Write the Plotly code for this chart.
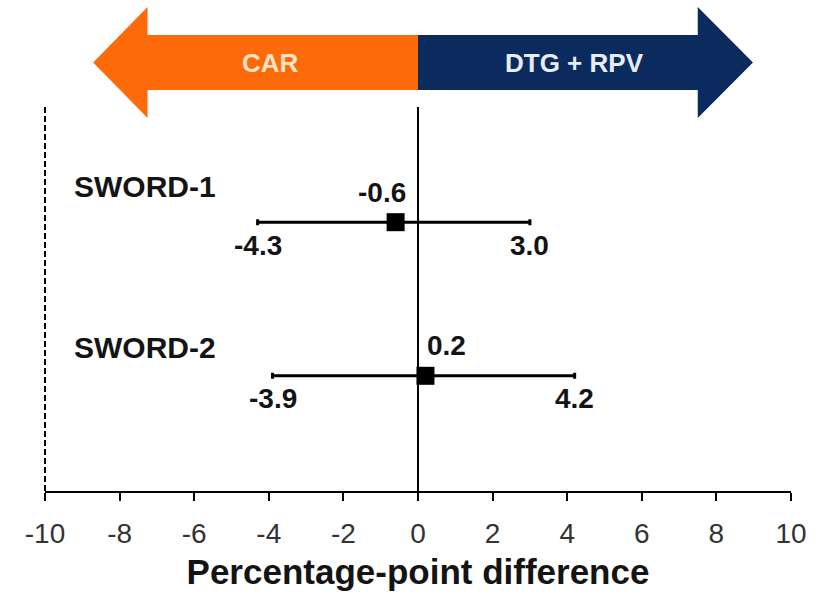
import plotly.graph_objects as go

# Study results: point estimate and 95% CI (percentage points)
studies = ["SWORD-1", "SWORD-2"]
estimates = [-0.6, 0.2]
ci_low = [-4.3, -3.9]
ci_high = [3.0, 4.2]
row_pos = [7, 3]

x_ticks = [-10, -8, -6, -4, -2, 0, 2, 4, 6, 8, 10]
arrow_labels = ["CAR", "DTG + RPV"]

X_MIN, X_MAX = -10, 10
Y_MIN, Y_MAX = 0, 10
FONT = "Liberation Sans, Arial, sans-serif"
ORANGE = "#FC6A0A"
NAVY = "#0B2B5E"
INK = "#141414"

fig = go.Figure()

fig.add_trace(go.Scatter(
    x=estimates,
    y=row_pos,
    mode="markers",
    marker=dict(symbol="square", size=18, color="black"),
    error_x=dict(
        type="data",
        symmetric=False,
        array=[h - e for h, e in zip(ci_high, estimates)],
        arrayminus=[e - l for e, l in zip(estimates, ci_low)],
        color="black",
        thickness=3,
        width=3,
    ),
    showlegend=False,
    hoverinfo="skip",
))

annotations = []
name_shift = {"SWORD-1": 36, "SWORD-2": 28}
for name, est, lo, hi, yp in zip(studies, estimates, ci_low, ci_high, row_pos):
    val_font = dict(family=FONT, size=28, color=INK)
    annotations.append(dict(x=X_MIN, y=yp, text="<b>%s</b>" % name, showarrow=False,
                            xanchor="left", yanchor="middle", xshift=27, yshift=name_shift[name],
                            font=dict(family=FONT, size=30, color=INK)))
    annotations.append(dict(x=est, y=yp, text="<b>%.1f</b>" % est, showarrow=False,
                            xanchor="center", yanchor="middle", yshift=30,
                            xshift=-14 if est < 0 else 21, font=val_font))
    annotations.append(dict(x=lo, y=yp, text="<b>%.1f</b>" % lo, showarrow=False,
                            xanchor="center", yanchor="middle", yshift=-23, font=val_font))
    annotations.append(dict(x=hi, y=yp, text="<b>%.1f</b>" % hi, showarrow=False,
                            xanchor="center", yanchor="middle", yshift=-23, font=val_font))


def px(v):
    return (v - X_MIN) / (X_MAX - X_MIN)


# Direction arrow above the plot (paper coordinates)
y_tip_top, y_tip_bot = 1.2604, 0.9714
y_body_top, y_body_bot = 1.1875, 1.0443
y_mid = (y_body_top + y_body_bot) / 2
left_tip, left_base, split, right_base, right_tip = -8.71, -7.25, 0.0, 7.5, 8.98


def arrow_path(tip, base):
    return "M {a},{m} L {b},{t} L {b},{bt} L {s},{bt} L {s},{bb} L {b},{bb} L {b},{bo} Z".format(
        a=px(tip), b=px(base), s=px(split), m=y_mid, t=y_tip_top, bt=y_body_top,
        bb=y_body_bot, bo=y_tip_bot)


shapes = [
    dict(type="path", path=arrow_path(left_tip, left_base), xref="paper", yref="paper",
         fillcolor=ORANGE, line=dict(width=0), layer="above"),
    dict(type="path", path=arrow_path(right_tip, right_base), xref="paper", yref="paper",
         fillcolor=NAVY, line=dict(width=0), layer="above"),
    # zero reference line
    dict(type="line", xref="x", yref="paper", x0=0, x1=0, y0=0, y1=1,
         line=dict(color="black", width=2), layer="below"),
    # dashed left boundary
    dict(type="line", xref="paper", yref="paper", x0=px(X_MIN), x1=px(X_MIN), y0=0, y1=1,
         line=dict(color="black", width=2, dash="6px,3px")),
]

annotations.append(dict(x=px(-3.95), y=y_mid, xref="paper", yref="paper",
                        text="<b>%s</b>" % arrow_labels[0], showarrow=False,
                        xanchor="center", yanchor="middle", yshift=-1,
                        font=dict(family=FONT, size=26, color="#F7E4C4")))
annotations.append(dict(x=px(4.2), y=y_mid, xref="paper", yref="paper",
                        text="<b>%s</b>" % arrow_labels[1], showarrow=False,
                        xanchor="center", yanchor="middle", yshift=-1,
                        font=dict(family=FONT, size=26, color="#E6EDF5")))

fig.update_layout(
    width=827,
    height=597,
    margin=dict(l=45, r=36, t=107, b=106),
    paper_bgcolor="white",
    plot_bgcolor="white",
    shapes=shapes,
    annotations=annotations,
    xaxis=dict(
        range=[X_MIN, X_MAX],
        tickvals=x_ticks,
        ticktext=[str(t) for t in x_ticks],
        showgrid=False,
        zeroline=False,
        showline=True,
        linecolor="black",
        linewidth=2,
        ticks="outside",
        ticklen=8,
        tickwidth=2,
        tickcolor="black",
        ticklabelstandoff=8,
        tickfont=dict(family=FONT, size=28, color="#333333"),
        title=dict(text="<b>Percentage-point difference</b>",
                   font=dict(family=FONT, size=35, color=INK), standoff=12),
        fixedrange=True,
    ),
    yaxis=dict(
        range=[Y_MIN, Y_MAX],
        visible=False,
        showgrid=False,
        zeroline=False,
        fixedrange=True,
    ),
)

fig.write_html("out.html")
